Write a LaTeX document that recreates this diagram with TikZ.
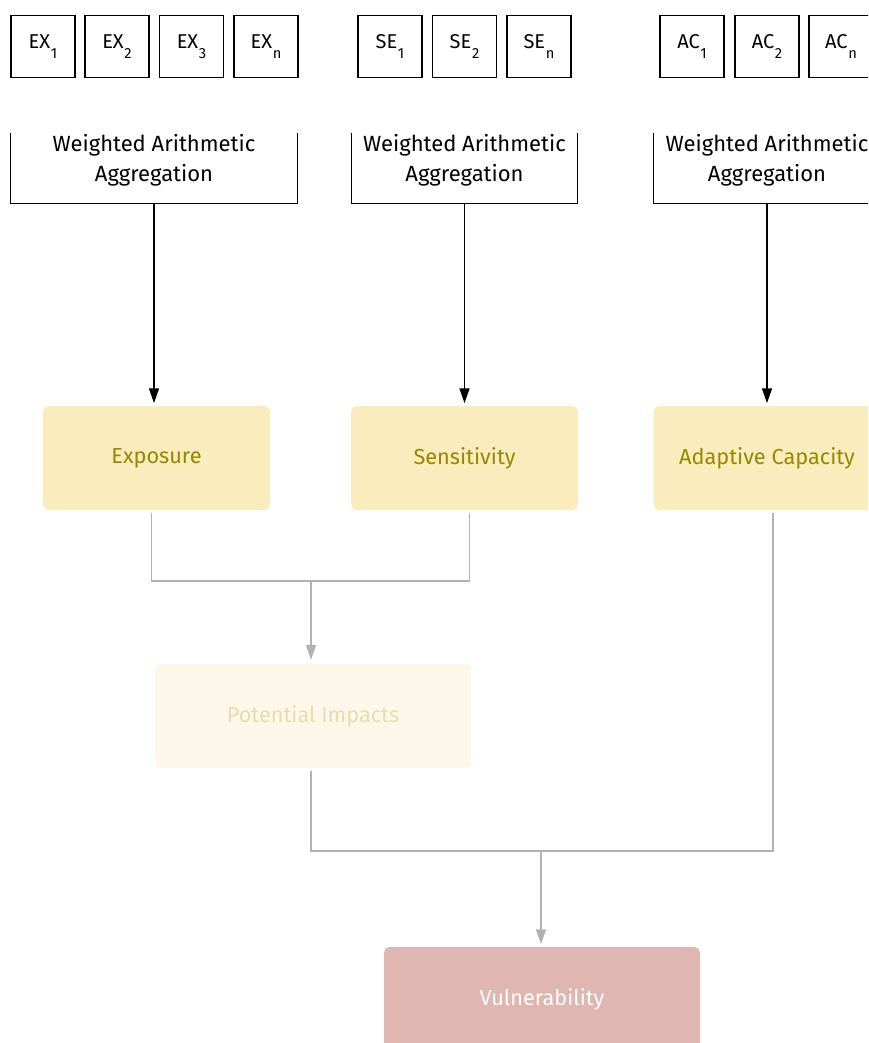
\documentclass[tikz,border=0pt]{standalone}
\usepackage{fontspec}
\setmainfont{Fira Sans}
\usepackage{tikz}
\usetikzlibrary{arrows.meta,positioning}
\definecolor{vayellow}{RGB}{250,236,189}
\definecolor{vaolive}{RGB}{153,135,0}
\definecolor{vapale}{RGB}{253,247,233}
\definecolor{vapaletext}{RGB}{228,222,176}
\definecolor{varose}{RGB}{223,182,176}
\definecolor{vagrey}{RGB}{178,178,178}
\newcommand{\idx}[1]{\kern0.5pt\raisebox{-0.9ex}{\fontsize{11}{11}\selectfont #1}}
\tikzstyle{indicator} = [rectangle, draw=black, line width=0.9pt, minimum width=48pt, minimum height=47pt, inner sep=0pt, font=\fontsize{15}{17}\selectfont]
\tikzstyle{aggregate} = [rectangle, minimum height=64.5pt, inner sep=0pt, align=center, font=\fontsize{16.5}{22.5}\selectfont]
\tikzstyle{component} = [rectangle, rounded corners=4pt, fill=vayellow, text=vaolive, minimum width=170pt, minimum height=78pt, font=\fontsize{16.3}{19}\selectfont]
\tikzstyle{arrow} = [line width=0.9pt, -{Triangle[width=7.5pt,length=11pt]}]
\tikzstyle{link} = [line width=0.9pt, color=vagrey]

\begin{document}
\begin{tikzpicture}[x=0.75pt, y=-0.75pt]
\useasboundingbox (0,0) rectangle (868,1043);
\clip (0,0) rectangle (868,1043);

% Indicators
\node[indicator] (ex1) at (43,46.5) {EX\idx{1}};
\node[indicator] (ex2) at (117,46.5) {EX\idx{2}};
\node[indicator] (ex3) at (191.5,46.5) {EX\idx{3}};
\node[indicator] (exn) at (266,46.5) {EX\idx{n}};
\node[indicator] (se1) at (390,46.5) {SE\idx{1}};
\node[indicator] (se2) at (464.5,46.5) {SE\idx{2}};
\node[indicator] (sen) at (539,46.5) {SE\idx{n}};
\node[indicator] (ac1) at (692,46.5) {AC\idx{1}};
\node[indicator] (ac2) at (767,46.5) {AC\idx{2}};
\node[indicator] (acn) at (841,46.5) {AC\idx{n}};

% Aggregation
\node[aggregate, minimum width=214.5pt] (aggex) at (154,160) {Weighted Arithmetic\\Aggregation};
\node[aggregate, minimum width=168.75pt] (aggse) at (464.5,160) {Weighted Arithmetic\\Aggregation};
\node[aggregate, minimum width=169.5pt] (aggac) at (767,160) {Weighted Arithmetic\\Aggregation};
\foreach \agg in {aggex,aggse,aggac}
  \draw[line width=0.9pt] ([yshift=-12pt]\agg.north west) |- (\agg.south) -| ([yshift=-12pt]\agg.north east);

% Components
\node[component] (expo) at (156.5,458) {Exposure};
\node[component] (sens) at (464.5,458) {Sensitivity};
\node[component] (adap) at (767,458) {Adaptive Capacity};

\draw[arrow, shorten >=2pt] (aggex.south) -- (aggex.south |- expo.north);
\draw[arrow, shorten >=2pt] (aggse.south) -- (aggse.south |- sens.north);
\draw[arrow, shorten >=2pt] (aggac.south) -- (aggac.south |- adap.north);

% Potential impacts
\node[component, fill=vapale, text=vapaletext, minimum width=237pt] (imp) at (313,716) {Potential Impacts};
\coordinate (impmerge) at (311,581);
\draw[link, shorten <=2pt, shorten >=2pt] ([xshift=-4pt]expo.south) |- (impmerge) -| ([xshift=4pt]sens.south);
\draw[link, arrow, shorten >=3pt] (impmerge) -- (impmerge |- imp.north);

% Vulnerability
\node[component, fill=varose, text=white, minimum width=237pt] (vul) at (542,999) {Vulnerability};
\coordinate (vulmerge) at (541,851);
\draw[link, shorten <=2pt, shorten >=2pt] ([xshift=-1.5pt]imp.south) |- (vulmerge) -| ([xshift=4.5pt]adap.south);
\draw[link, arrow, shorten >=2pt] (vulmerge) -- (vulmerge |- vul.north);
\end{tikzpicture}
\end{document}
